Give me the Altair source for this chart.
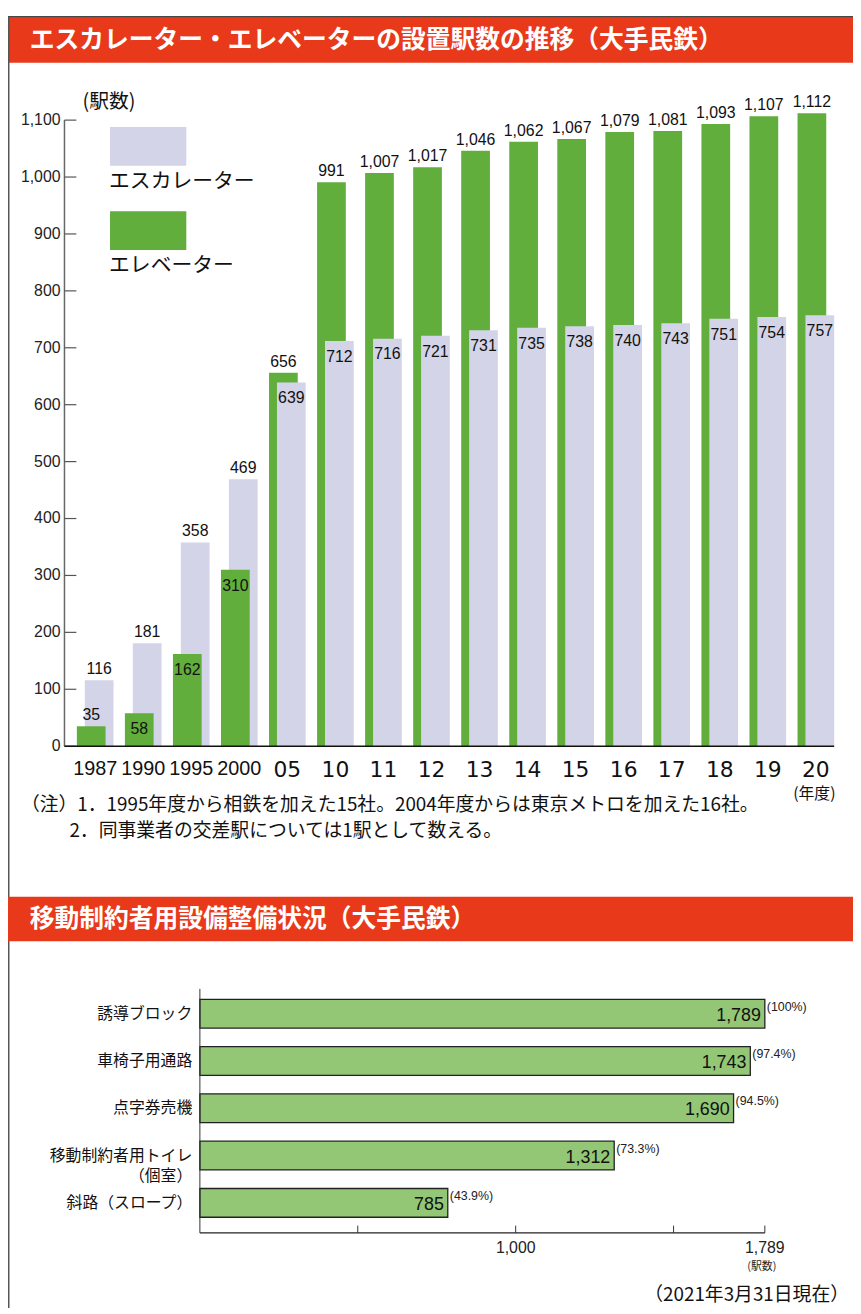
import altair as alt
import pandas as pd

# ---------------- data ----------------
years = ["1987", "1990", "1995", "2000", "05", "10", "11", "12", "13", "14",
         "15", "16", "17", "18", "19", "20"]
escalator = [116, 181, 358, 469, 639, 712, 716, 721, 731, 735, 738, 740, 743, 751, 754, 757]
elevator = [35, 58, 162, 310, 656, 991, 1007, 1017, 1046, 1062, 1067, 1079, 1081, 1093, 1107, 1112]
y_ticks = [0, 100, 200, 300, 400, 500, 600, 700, 800, 900, 1000, 1100]

facilities = ["誘導ブロック", "車椅子用通路", "点字券売機", "移動制約者用トイレ\n（個室）", "斜路（スロープ）"]
facility_counts = [1789, 1743, 1690, 1312, 785]
facility_pct = ["(100%)", "(97.4%)", "(94.5%)", "(73.3%)", "(43.9%)"]
x_ticks2 = [500, 1000, 1500, 1789]
x_tick_labels2 = [1000, 1789]

TITLE1 = "エスカレーター・エレベーターの設置駅数の推移（大手民鉄）"
TITLE2 = "移動制約者用設備整備状況（大手民鉄）"
NOTE1 = "（注）1．1995年度から相鉄を加えた15社。2004年度からは東京メトロを加えた16社。"
NOTE2 = "2．同事業者の交差駅については1駅として数える。"
ASOF = "（2021年3月31日現在）"

# ---------------- styles ----------------
RED = "#E8391B"
LAV = "#D3D4E8"
GREEN = "#62AE3C"
GREEN2 = "#93C675"
NARROW = "Liberation Sans, Arial, sans-serif"
WIDE = "DejaVu Sans, Verdana, sans-serif"
CJK = "Noto Sans CJK JP"

W, H = 853, 1306

# ---------------- top chart data ----------------
rows = []
for yr, e, v in zip(years, escalator, elevator):
    rows.append(dict(year=yr, series="esc", value=e, front=int(e < v)))
    rows.append(dict(year=yr, series="elev", value=v, front=int(v < e)))
df = pd.DataFrame(rows)
df["inside"] = ((df["front"] == 1) & (df["value"] >= 50)).astype(int)

xs = alt.Scale(type="point", domain=years, range=[88, 815.5], padding=0)
ys = alt.Scale(domain=[0, 1100], range=[739, 107], nice=False, zero=True)
X = alt.X("year:O", scale=xs, axis=None)
Y = alt.Y("value:Q", scale=ys, axis=None)

dummy = pd.DataFrame({"a": [0]})
OFF = {"elev": -4, "esc": 4}
COL = {"elev": GREEN, "esc": LAV}


def bars(series, front):
    return (alt.Chart(df)
            .transform_filter((alt.datum.series == series) & (alt.datum.front == front))
            .mark_bar(width=29, xOffset=OFF[series], color=COL[series])
            .encode(x=X, y=Y, y2=alt.datum(0)))


def labels(series, inside):
    if inside:
        mk = alt.Chart(df).mark_text(font=NARROW, fontSize=16, baseline="top",
                                     dx=OFF[series], dy=8, color="#111")
    else:
        mk = alt.Chart(df).mark_text(font=NARROW, fontSize=16, baseline="alphabetic",
                                     dx=OFF[series], dy=-6, color="#111")
    return (mk.transform_filter((alt.datum.series == series) & (alt.datum.inside == inside))
            .encode(x=X, y=Y, text=alt.Text("value:Q", format=",")))


tick_df = pd.DataFrame({"t": y_ticks})
yr_df = pd.DataFrame({"year": years, "long": [int(len(y) == 4) for y in years]})

top_layers = [
    # banner
    alt.Chart(dummy).mark_rect(color=RED).encode(
        x=alt.value(0), x2=alt.value(W), y=alt.value(3), y2=alt.value(49)),
    alt.Chart(dummy).mark_rule(color="#333", strokeWidth=1).encode(
        x=alt.value(0), x2=alt.value(W), y=alt.value(2.5)),
    alt.Chart(dummy).mark_text(text=TITLE1, font=CJK, fontSize=25, fontWeight="bold",
                               color="white", align="left", baseline="middle").encode(
        x=alt.value(22), y=alt.value(26)),
    # left frame line
    alt.Chart(dummy).mark_rule(color="#555", strokeWidth=1.5).encode(
        x=alt.value(0.75), y=alt.value(3), y2=alt.value(H)),
    # bars (taller behind, shorter in front)
    bars("elev", 0), bars("esc", 0), bars("elev", 1), bars("esc", 1),
    labels("elev", 0), labels("esc", 0), labels("elev", 1), labels("esc", 1),
    # y axis
    alt.Chart(dummy).mark_rule(color="#666", strokeWidth=1.5).encode(
        x=alt.value(57), y=alt.value(107), y2=alt.value(739)),
    alt.Chart(tick_df).mark_rule(color="#555", strokeWidth=1.2).encode(
        x=alt.value(57), x2=alt.value(69), y=alt.Y("t:Q", scale=ys, axis=None)),
    alt.Chart(tick_df).mark_text(font=NARROW, fontSize=16, align="right",
                                 baseline="middle", color="#222").encode(
        x=alt.value(53), y=alt.Y("t:Q", scale=ys, axis=None),
        text=alt.Text("t:Q", format=",")),
    # baseline
    alt.Chart(dummy).mark_rule(color="#111", strokeWidth=1.5).encode(
        x=alt.value(57), x2=alt.value(834), y=alt.value(739)),
    # x labels
    alt.Chart(yr_df).transform_filter(alt.datum.long == 1).mark_text(
        font=NARROW, fontSize=20, baseline="middle", color="#111").encode(
        x=X, y=alt.value(762), text="year:N"),
    alt.Chart(yr_df).transform_filter(alt.datum.long == 0).mark_text(
        font=WIDE, fontSize=22, baseline="middle", color="#111").encode(
        x=X, y=alt.value(763), text="year:N"),
    alt.Chart(dummy).mark_text(text="(年度)", font=CJK, fontSize=16,
                               baseline="middle", color="#111").encode(
        x=alt.value(814), y=alt.value(787)),
    # unit label
    alt.Chart(dummy).mark_text(text="(駅数)", font=CJK, fontSize=20,
                               baseline="middle", color="#111").encode(
        x=alt.value(102), y=alt.value(89)),
    # legend
    alt.Chart(dummy).mark_rect(color=LAV).encode(
        x=alt.value(103), x2=alt.value(180), y=alt.value(114), y2=alt.value(153)),
    alt.Chart(dummy).mark_text(text="エスカレーター", font=CJK, fontSize=21, align="left",
                               baseline="middle", color="#111").encode(
        x=alt.value(102), y=alt.value(170)),
    alt.Chart(dummy).mark_rect(color=GREEN).encode(
        x=alt.value(103), x2=alt.value(180), y=alt.value(199), y2=alt.value(238)),
    alt.Chart(dummy).mark_text(text="エレベーター", font=CJK, fontSize=21, align="left",
                               baseline="middle", color="#111").encode(
        x=alt.value(102), y=alt.value(254)),
    # notes
    alt.Chart(dummy).mark_text(text=NOTE1, font=CJK, fontSize=19, align="left",
                               baseline="middle", color="#111").encode(
        x=alt.value(13), y=alt.value(798)),
    alt.Chart(dummy).mark_text(text=NOTE2, font=CJK, fontSize=19, align="left",
                               baseline="middle", color="#111").encode(
        x=alt.value(62), y=alt.value(825)),
]
top = alt.layer(*top_layers)

# ---------------- bottom chart ----------------
df2 = pd.DataFrame({"cat": facilities, "n": facility_counts, "pct": facility_pct})
xs2 = alt.Scale(domain=[0, 1789], range=[193.7, 764], nice=False, zero=True)
ys2 = alt.Scale(type="point", domain=facilities, range=[1009, 1200], padding=0)
X2 = alt.X("n:Q", scale=xs2, axis=None)
Y2 = alt.Y("cat:N", scale=ys2, axis=None)
t2 = pd.DataFrame({"t": x_ticks2})
tl2 = pd.DataFrame({"t": x_tick_labels2})

bottom_layers = [
    alt.Chart(dummy).mark_rect(color=RED).encode(
        x=alt.value(0), x2=alt.value(W), y=alt.value(891), y2=alt.value(936)),
    alt.Chart(dummy).mark_text(text=TITLE2, font=CJK, fontSize=25, fontWeight="bold",
                               color="white", align="left", baseline="middle").encode(
        x=alt.value(22), y=alt.value(913.5)),
    alt.Chart(df2).mark_bar(height=29, color=GREEN2, stroke="#222", strokeWidth=1.3).encode(
        x=X2, x2=alt.datum(0), y=Y2),
    alt.Chart(df2).mark_text(font=NARROW, fontSize=18, align="right", baseline="middle",
                             dx=-4, dy=2, color="#111").encode(
        x=X2, y=Y2, text=alt.Text("n:Q", format=",")),
    alt.Chart(df2).mark_text(font=NARROW, fontSize=12.5, align="left", baseline="middle",
                             dx=2, dy=-7, color="#222").encode(
        x=X2, y=Y2, text="pct:N"),
    alt.Chart(df2).mark_text(font=CJK, fontSize=16, align="right", baseline="middle",
                             lineBreak="\n", lineHeight=21, color="#111").encode(
        x=alt.value(186), y=Y2, text="cat:N"),
    # axes
    alt.Chart(dummy).mark_rule(color="#333", strokeWidth=1).encode(
        x=alt.value(193.7), y=alt.value(984), y2=alt.value(1230.3)),
    alt.Chart(dummy).mark_rule(color="#222", strokeWidth=1.2).encode(
        x=alt.value(193.7), x2=alt.value(764), y=alt.value(1230.3)),
    alt.Chart(t2).mark_rule(color="#333", strokeWidth=1).encode(
        x=alt.X("t:Q", scale=xs2, axis=None), y=alt.value(1223), y2=alt.value(1230.3)),
    alt.Chart(tl2).mark_text(font=NARROW, fontSize=16, baseline="middle", color="#222").encode(
        x=alt.X("t:Q", scale=xs2, axis=None), y=alt.value(1246),
        text=alt.Text("t:Q", format=",")),
    alt.Chart(dummy).mark_text(text="(駅数)", font=CJK, fontSize=11, baseline="middle",
                               color="#222").encode(x=alt.value(761), y=alt.value(1265)),
    alt.Chart(dummy).mark_text(text=ASOF, font=CJK, fontSize=19, align="right",
                               baseline="middle", color="#111").encode(
        x=alt.value(849), y=alt.value(1293)),
]
bottom = alt.layer(*bottom_layers)

chart = (alt.layer(top, bottom)
         .resolve_scale(x="independent", y="independent")
         .properties(width=W, height=H, autosize=alt.AutoSizeParams(type="none"), padding=0)
         .configure_view(stroke=None))

chart.save("out.html", embed_options={"renderer": "svg", "actions": False})
